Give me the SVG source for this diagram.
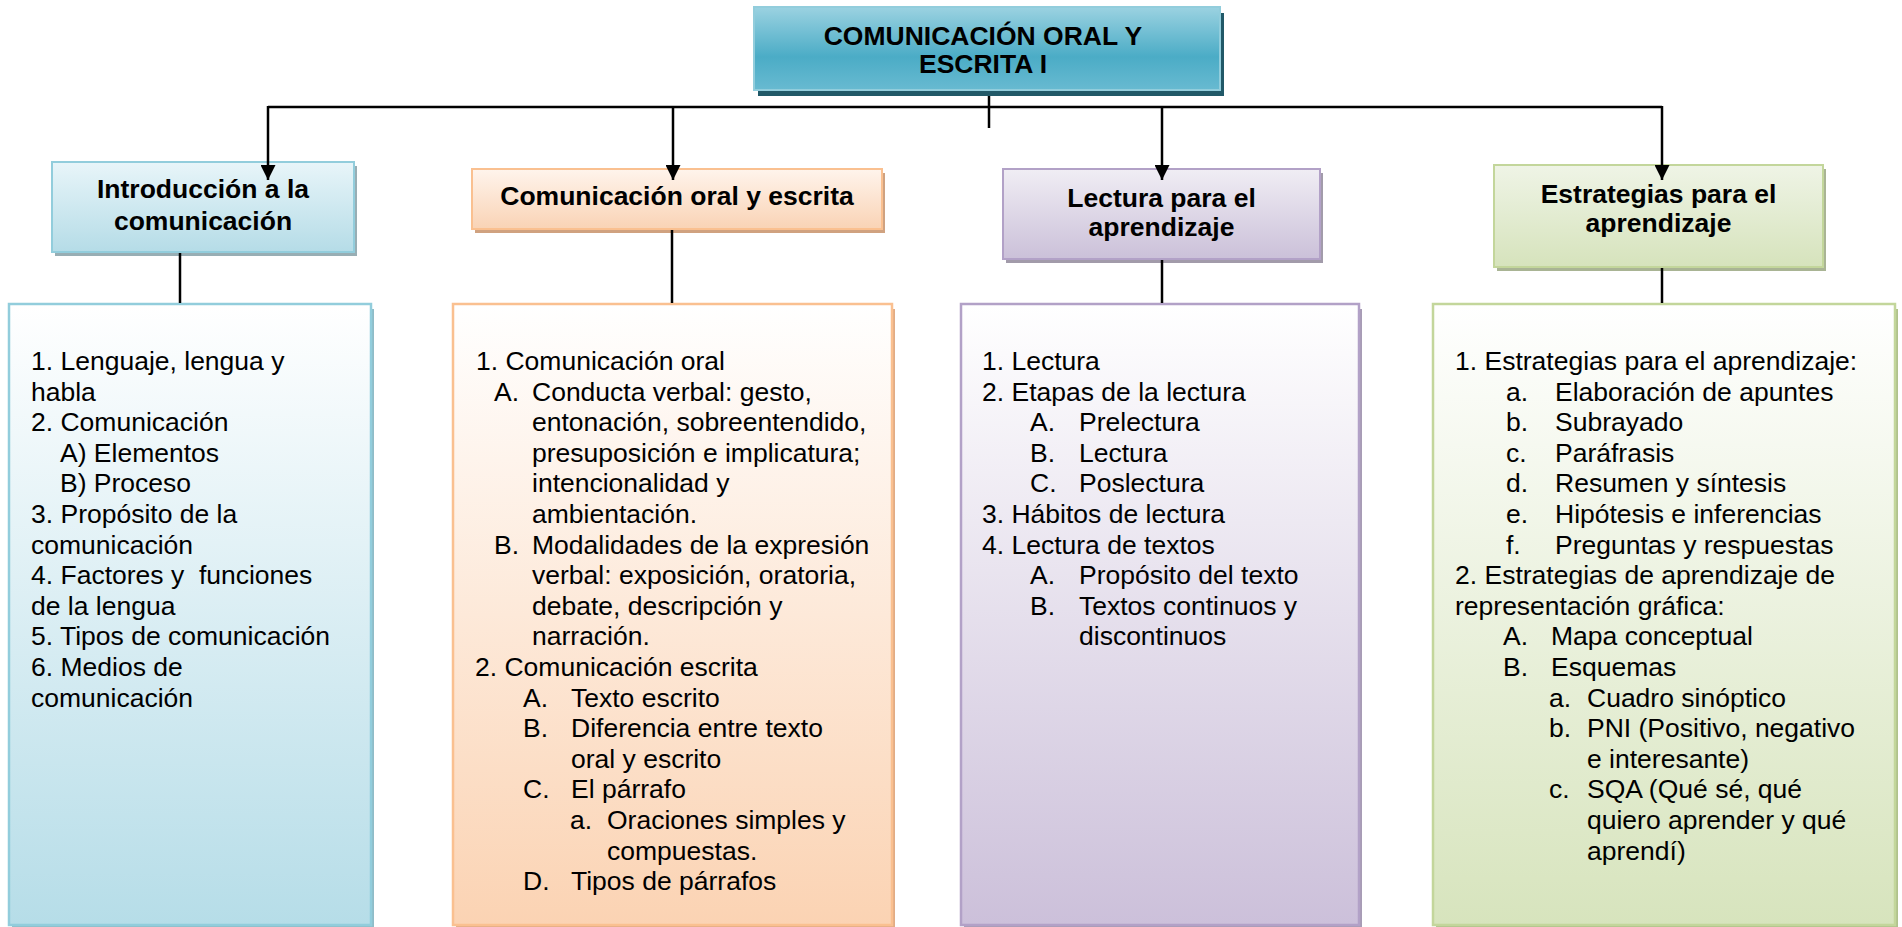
<svg xmlns="http://www.w3.org/2000/svg" width="1902" height="927" viewBox="0 0 1902 927">
<defs>
<linearGradient id="gTitle" x1="0" y1="0" x2="0" y2="1">
<stop offset="0" stop-color="#9BD2E1"/><stop offset="0.6" stop-color="#4BACC6"/><stop offset="1" stop-color="#68BAD1"/>
</linearGradient>
<linearGradient id="gH1" x1="0" y1="0" x2="0" y2="1"><stop offset="0" stop-color="#E8F5F9"/><stop offset="1" stop-color="#B5DCE7"/></linearGradient>
<linearGradient id="gH2" x1="0" y1="0" x2="0" y2="1"><stop offset="0" stop-color="#FFF4EC"/><stop offset="1" stop-color="#F9D3B5"/></linearGradient>
<linearGradient id="gH3" x1="0" y1="0" x2="0" y2="1"><stop offset="0" stop-color="#F0EDF4"/><stop offset="1" stop-color="#CBC0D9"/></linearGradient>
<linearGradient id="gH4" x1="0" y1="0" x2="0" y2="1"><stop offset="0" stop-color="#EFF4E6"/><stop offset="1" stop-color="#D6E3BC"/></linearGradient>
<linearGradient id="gB1" x1="0" y1="0" x2="0" y2="1"><stop offset="0" stop-color="#FFFFFF"/><stop offset="1" stop-color="#B6DDE8"/></linearGradient>
<linearGradient id="gB2" x1="0" y1="0" x2="0" y2="1"><stop offset="0" stop-color="#FFFFFF"/><stop offset="1" stop-color="#FBD3B3"/></linearGradient>
<linearGradient id="gB3" x1="0" y1="0" x2="0" y2="1"><stop offset="0" stop-color="#FFFFFF"/><stop offset="1" stop-color="#CCC0DA"/></linearGradient>
<linearGradient id="gB4" x1="0" y1="0" x2="0" y2="1"><stop offset="0" stop-color="#FFFFFF"/><stop offset="1" stop-color="#D7E4BD"/></linearGradient>
<marker id="arr" viewBox="0 0 10 10" refX="10" refY="5" markerWidth="6" markerHeight="6" markerUnits="strokeWidth" orient="auto">
<path d="M0,0 L10,5 L0,10 z" fill="#000"/>
</marker>
</defs>
<style>
text{font-family:"Liberation Sans",Arial,sans-serif;font-size:26.5px;fill:#000;white-space:pre}
.b{font-weight:bold}
.c{text-anchor:middle}
.conn line{stroke:#000;stroke-width:2.5}
</style>
<g id="title">
<rect x="758" y="13" width="466" height="83" fill="#215968"/>
<rect x="754" y="7" width="466" height="83" fill="url(#gTitle)" stroke="#92CDDC" stroke-width="2"/>
<text class="b c" x="983" y="45">COMUNICACIÓN ORAL Y</text>
<text class="b c" x="983" y="73">ESCRITA I</text>
</g>
<g id="head1">
<rect x="55" y="166" width="302" height="90" fill="#98AEB4"/>
<rect x="52" y="162" width="302" height="90" fill="url(#gH1)" stroke="#92CDDC" stroke-width="2"/>
<text class="b c" x="203" y="198">Introducción a la</text>
<text class="b c" x="203" y="230">comunicación</text>
</g>
<g id="head2">
<rect x="475" y="173" width="410" height="60" fill="#D0A280"/>
<rect x="472" y="169" width="410" height="60" fill="url(#gH2)" stroke="#FAC090" stroke-width="2"/>
<text class="b c" x="677" y="205">Comunicación oral y escrita</text>
</g>
<g id="head3">
<rect x="1006" y="173" width="317" height="90" fill="#A29BAA"/>
<rect x="1003" y="169" width="317" height="90" fill="url(#gH3)" stroke="#B2A1C7" stroke-width="2"/>
<text class="b c" x="1161.5" y="207">Lectura para el</text>
<text class="b c" x="1161.5" y="236">aprendizaje</text>
</g>
<g id="head4">
<rect x="1497" y="169" width="329" height="102" fill="#A9B494"/>
<rect x="1494" y="165" width="329" height="102" fill="url(#gH4)" stroke="#C3D69B" stroke-width="2"/>
<text class="b c" x="1658.5" y="203">Estrategias para el</text>
<text class="b c" x="1658.5" y="232">aprendizaje</text>
</g>
<g id="box1">
<rect x="12" y="309" width="362" height="618" fill="#8FBCC8"/>
<rect x="9" y="304" width="362" height="621" fill="url(#gB1)" stroke="#92CDDC" stroke-width="2.5"/>
<text x="31" y="370">1. Lenguaje, lengua y</text>
<text x="31" y="400.6">habla</text>
<text x="31" y="431.2">2. Comunicación</text>
<text x="60" y="461.8">A) Elementos</text>
<text x="60" y="492.4">B) Proceso</text>
<text x="31" y="523">3. Propósito de la</text>
<text x="31" y="553.6">comunicación</text>
<text x="31" y="584.2">4. Factores y  funciones</text>
<text x="31" y="614.8">de la lengua</text>
<text x="31" y="645.4">5. Tipos de comunicación</text>
<text x="31" y="676">6. Medios de</text>
<text x="31" y="706.6">comunicación</text>
</g>
<g id="box2">
<rect x="456" y="309" width="439" height="618" fill="#E2AC84"/>
<rect x="453" y="304" width="439" height="621" fill="url(#gB2)" stroke="#FAC090" stroke-width="2.5"/>
<text x="476" y="370">1. Comunicación oral</text>
<text x="494" y="400.6">A.</text><text x="532" y="400.6">Conducta verbal: gesto,</text>
<text x="532" y="431.2">entonación, sobreentendido,</text>
<text x="532" y="461.8">presuposición e implicatura;</text>
<text x="532" y="492.4">intencionalidad y</text>
<text x="532" y="523">ambientación.</text>
<text x="494" y="553.6">B.</text><text x="532" y="553.6">Modalidades de la expresión</text>
<text x="532" y="584.2">verbal: exposición, oratoria,</text>
<text x="532" y="614.8">debate, descripción y</text>
<text x="532" y="645.4">narración.</text>
<text x="475" y="676">2. Comunicación escrita</text>
<text x="523" y="706.6">A.</text><text x="571" y="706.6">Texto escrito</text>
<text x="523" y="737.2">B.</text><text x="571" y="737.2">Diferencia entre texto</text>
<text x="571" y="767.8">oral y escrito</text>
<text x="523" y="798.4">C.</text><text x="571" y="798.4">El párrafo</text>
<text x="570" y="829">a.</text><text x="607" y="829">Oraciones simples y</text>
<text x="607" y="859.6">compuestas.</text>
<text x="523" y="890.2">D.</text><text x="571" y="890.2">Tipos de párrafos</text>
</g>
<g id="box3">
<rect x="964" y="309" width="398" height="618" fill="#A79CB5"/>
<rect x="961" y="304" width="398" height="621" fill="url(#gB3)" stroke="#B2A1C7" stroke-width="2.5"/>
<text x="982" y="370">1. Lectura</text>
<text x="982" y="400.6">2. Etapas de la lectura</text>
<text x="1030" y="431.2">A.</text><text x="1079" y="431.2">Prelectura</text>
<text x="1030" y="461.8">B.</text><text x="1079" y="461.8">Lectura</text>
<text x="1030" y="492.4">C.</text><text x="1079" y="492.4">Poslectura</text>
<text x="982" y="523">3. Hábitos de lectura</text>
<text x="982" y="553.6">4. Lectura de textos</text>
<text x="1030" y="584.2">A.</text><text x="1079" y="584.2">Propósito del texto</text>
<text x="1030" y="614.8">B.</text><text x="1079" y="614.8">Textos continuos y</text>
<text x="1079" y="645.4">discontinuos</text>
</g>
<g id="box4">
<rect x="1436" y="309" width="462" height="618" fill="#B0C28C"/>
<rect x="1433" y="304" width="462" height="621" fill="url(#gB4)" stroke="#C3D69B" stroke-width="2.5"/>
<text x="1455" y="370">1. Estrategias para el aprendizaje:</text>
<text x="1506" y="400.6">a.</text><text x="1555" y="400.6">Elaboración de apuntes</text>
<text x="1506" y="431.2">b.</text><text x="1555" y="431.2">Subrayado</text>
<text x="1506" y="461.8">c.</text><text x="1555" y="461.8">Paráfrasis</text>
<text x="1506" y="492.4">d.</text><text x="1555" y="492.4">Resumen y síntesis</text>
<text x="1506" y="523">e.</text><text x="1555" y="523">Hipótesis e inferencias</text>
<text x="1506" y="553.6">f.</text><text x="1555" y="553.6">Preguntas y respuestas</text>
<text x="1455" y="584.2">2. Estrategias de aprendizaje de</text>
<text x="1455" y="614.8">representación gráfica:</text>
<text x="1503" y="645.4">A.</text><text x="1551" y="645.4">Mapa conceptual</text>
<text x="1503" y="676">B.</text><text x="1551" y="676">Esquemas</text>
<text x="1549" y="706.6">a.</text><text x="1587" y="706.6">Cuadro sinóptico</text>
<text x="1549" y="737.2">b.</text><text x="1587" y="737.2">PNI (Positivo, negativo</text>
<text x="1587" y="767.8">e interesante)</text>
<text x="1549" y="798.4">c.</text><text x="1587" y="798.4">SQA (Qué sé, qué</text>
<text x="1587" y="829">quiero aprender y qué</text>
<text x="1587" y="859.6">aprendí)</text>
</g>
<g id="connectors" class="conn">
<line x1="989" y1="96" x2="989" y2="128"/>
<line x1="268" y1="107" x2="1662" y2="107"/>
<line x1="268" y1="106" x2="268" y2="180" marker-end="url(#arr)"/>
<line x1="673" y1="107" x2="673" y2="180" marker-end="url(#arr)"/>
<line x1="1162" y1="107" x2="1162" y2="180" marker-end="url(#arr)"/>
<line x1="1662" y1="106" x2="1662" y2="180" marker-end="url(#arr)"/>
<line x1="180" y1="253" x2="180" y2="303"/>
<line x1="672" y1="230" x2="672" y2="303"/>
<line x1="1162" y1="260" x2="1162" y2="303"/>
<line x1="1662" y1="268" x2="1662" y2="303"/>
</g>
</svg>
